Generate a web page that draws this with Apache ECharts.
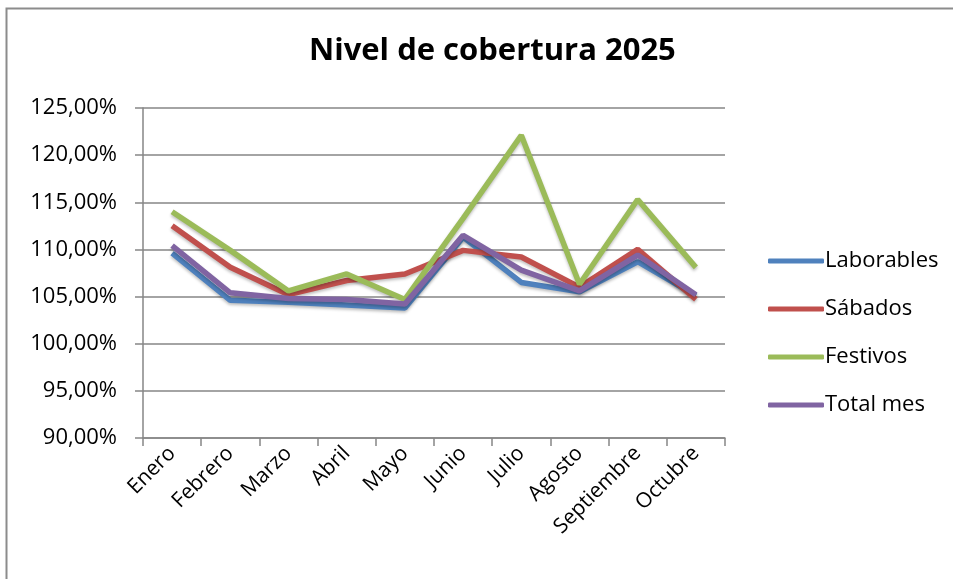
<!DOCTYPE html>
<html>
<head>
<meta charset="utf-8">
<script src="https://cdn.jsdelivr.net/npm/echarts@6/dist/echarts.min.js"></script>
<style>
  html, body { margin: 0; padding: 0; background: #fff; }
  #chart { width: 953px; height: 579px; }
</style>
</head>
<body>
<div id="chart"></div>
<script>
// datos (porcentajes)
const meses = ["Enero", "Febrero", "Marzo", "Abril", "Mayo", "Junio", "Julio", "Agosto", "Septiembre", "Octubre"];
const laborables = [109.6, 104.6, 104.4, 104.1, 103.8, 111.3, 106.5, 105.5, 108.7, 105.1];
const sabados    = [112.5, 108.1, 105.2, 106.7, 107.4, 109.9, 109.2, 106.0, 110.0, 104.7];
const festivos   = [114.0, 109.9, 105.6, 107.4, 104.7, 113.3, 122.1, 106.3, 115.3, 108.1];
const totalMes   = [110.4, 105.4, 104.8, 104.7, 104.2, 111.5, 107.8, 105.6, 109.4, 105.2];

const font = "Open Sans";
const colores = ["#4F81BD", "#C0504D", "#9BBB59", "#8064A2"];

function serie(name, data) {
  return {
    name: name,
    type: "line",
    data: data,
    symbol: "none",
    lineStyle: {
      width: 5.5,
      shadowColor: "rgba(0,0,0,0.25)",
      shadowBlur: 3,
      shadowOffsetY: 2
    }
  };
}

const myChart = echarts.init(document.getElementById("chart"));
const option = {
  backgroundColor: "#fff",
  color: colores,
  animation: false,
  title: {
    text: "Nivel de cobertura 2025",
    left: 304,
    top: 31,
    textStyle: { fontFamily: font, fontWeight: "bold", fontSize: 31, color: "#000" }
  },
  graphic: [
    {
      type: "rect",
      shape: { x: 6.5, y: 8.5, width: 1000, height: 600 },
      style: { fill: null, stroke: "#8c8c8c", lineWidth: 2 },
      silent: true
    }
  ],
  legend: {
    orient: "vertical",
    left: 763,
    top: 245,
    itemWidth: 56,
    itemHeight: 5,
    itemGap: 26,
    icon: "roundRect",
    textStyle: { fontFamily: font, fontSize: 22, color: "#000", padding: [0, 0, 0, -4] },
    data: ["Laborables", "Sábados", "Festivos", "Total mes"]
  },
  grid: { left: 143, right: 228, top: 108, bottom: 141 },
  xAxis: {
    type: "category",
    data: meses,
    boundaryGap: true,
    axisLine: { lineStyle: { color: "#868686", width: 1.5 } },
    axisTick: { show: true, length: 8, lineStyle: { color: "#868686", width: 1.5 } },
    axisLabel: {
      rotate: 45,
      interval: 0,
      margin: 12,
      fontFamily: font,
      fontSize: 21,
      color: "#000"
    }
  },
  yAxis: {
    type: "value",
    min: 90,
    max: 125,
    interval: 5,
    axisLine: { show: true, lineStyle: { color: "#868686", width: 1.5 } },
    axisTick: { show: true, inside: false, length: 8, lineStyle: { color: "#868686", width: 1.5 } },
    splitLine: { lineStyle: { color: "#868686", width: 1.5 } },
    axisLabel: {
      margin: 26,
      fontFamily: font,
      fontSize: 22,
      color: "#000",
      formatter: function (v) { return v.toFixed(2).replace(".", ",") + "%"; }
    }
  },
  series: [
    serie("Laborables", laborables),
    serie("Sábados", sabados),
    serie("Festivos", festivos),
    serie("Total mes", totalMes)
  ]
};
myChart.setOption(option);
window.addEventListener("resize", function () {
  myChart.resize();
});
</script>
</body>
</html>
